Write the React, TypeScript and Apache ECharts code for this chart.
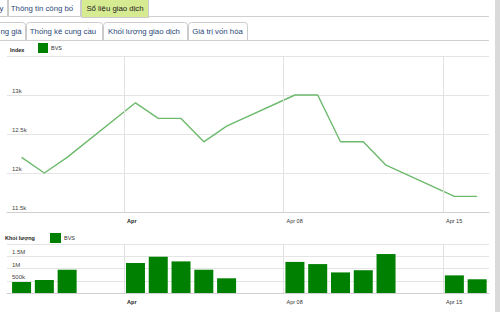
import React, { useEffect, useRef } from "react";
import * as echarts from "echarts";

const dates = [
  "2013-03-27", "2013-03-28", "2013-03-29",
  "2013-04-01", "2013-04-02", "2013-04-03", "2013-04-04", "2013-04-05",
  "2013-04-08", "2013-04-09", "2013-04-10", "2013-04-11", "2013-04-12",
  "2013-04-15", "2013-04-16",
];
const indexValues = [
  12200, 12000, 12200,
  12900, 12700, 12700, 12400, 12600,
  13000, 13000, 12400, 12400, 12100,
  11700, 11700,
];
const volumeValues = [
  450000, 530000, 950000,
  1220000, 1480000, 1290000, 950000, 600000,
  1270000, 1180000, 840000, 930000, 1590000,
  720000, 560000,
];
const tickDates = ["2013-04-01", "2013-04-08", "2013-04-15"];
const tickLabels = ["Apr", "Apr 08", "Apr 15"];
const tabsRow1 = ["y", "Thông tin công bố", "Sổ liệu giao dịch"];
const tabsRow2 = ["ng giá", "Thống kê cung cầu", "Khối lượng giao dịch", "Giá trị vốn hóa"];
const seriesName = "BVS";
const indexTitle = "Index";
const volumeTitle = "Khối lượng";

const BASE = Date.UTC(2013, 3, 1);
const dayOf = (s: string) => {
  const [y, m, d] = s.split("-").map(Number);
  return (Date.UTC(y, m - 1, d) - BASE) / 86400000;
};
const tickPos = tickDates.map(dayOf);

const fmtNum = (v: number) =>
  v >= 1e6 ? v / 1e6 + "M" : v >= 1000 ? v / 1000 + "k" : String(v);

const FONT = "'Liberation Sans', Arial, sans-serif";

export default function App() {
  const ref = useRef<HTMLDivElement>(null);
  useEffect(() => {
    if (!ref.current) return;
    const chart = echarts.init(ref.current, undefined, { renderer: "svg" });

    const lineData = dates.map((d, i) => [dayOf(d) + 0.5, indexValues[i]]);
    const barData = dates.map((d, i) => [dayOf(d) + 0.5, volumeValues[i]]);

    const xAxisCommon = (gridIndex: number) => ({
      type: "value",
      gridIndex,
      min: -5.14,
      max: 16.02,
      splitLine: { show: false },
      axisTick: { show: false },
      axisLine: { show: true, lineStyle: { color: "#d0d0d0", width: 1 } },
      axisLabel: {
        customValues: tickPos,
        margin: 6,
        align: "left",
        padding: [0, 0, 0, 3],
        fontSize: 5.5,
        fontFamily: FONT,
        color: "#333",
        formatter: (v: number) => {
          const i = tickPos.indexOf(v);
          const t = i >= 0 ? tickLabels[i] : "";
          return i === 0 ? "{b|" + t + "}" : "{n|" + t + "}";
        },
        rich: {
          b: { fontWeight: "bold", fontSize: 5.5, fontFamily: FONT, color: "#222" },
          n: { fontSize: 5.5, fontFamily: FONT, color: "#333" },
        },
      },
    });

    const yAxisCommon = (gridIndex: number, min: number, max: number, interval: number) => ({
      type: "value",
      gridIndex,
      min,
      max,
      interval,
      axisLine: { show: false },
      axisTick: { show: false },
      splitLine: { show: true, lineStyle: { color: "#e4e4e4", width: 1 } },
      axisLabel: {
        inside: true,
        margin: 5,
        align: "left",
        verticalAlign: "bottom",
        padding: [0, 0, 1, 0],
        showMaxLabel: false,
        fontSize: 6,
        fontFamily: FONT,
        color: "#444",
        formatter: fmtNum,
      },
    });

    const vLines = {
      silent: true,
      symbol: ["none", "none"],
      label: { show: false },
      lineStyle: { color: "#e2e2e2", type: "solid", width: 1 },
      emphasis: { disabled: true },
      animation: false,
      data: tickPos.map((p) => ({ xAxis: p })),
    };

    const tabText = (text: string, x: number, y: number, color: string) => ({
      type: "text",
      style: {
        text,
        x,
        y,
        fill: color,
        fontSize: 7.8,
        fontFamily: FONT,
        align: "center",
        textAlign: "center",
        verticalAlign: "middle",
        textVerticalAlign: "middle",
      },
      z: 10,
    });
    const tabRect = (x: number, y: number, w: number, h: number, fill: string) => ({
      type: "rect",
      shape: { x: x + 0.5, y: y + 0.5, width: w, height: h, r: [3, 3, 0, 0] },
      style: { fill, stroke: "#cbcbcb", lineWidth: 1 },
      z: 5,
    });

    const graphics: any[] = [
      // row 1 tabs
      tabRect(-10, -4, 17, 20, "#fff"),
      tabRect(8, -4, 72, 20, "#fff"),
      tabRect(81, -4, 67, 21, "#d6ea92"),
      tabText(tabsRow1[0], 1.5, 8, "#2b4877"),
      tabText(tabsRow1[1], 42, 8, "#2b4877"),
      tabText(tabsRow1[2], 115, 8, "#222"),
      {
        type: "line",
        shape: { x1: 148, y1: 16.5, x2: 489, y2: 16.5 },
        style: { stroke: "#cfcfcf", lineWidth: 1 },
        z: 4,
      },
      // row 2 tabs
      tabRect(-10, 22, 35, 18, "#fff"),
      tabRect(26, 22, 76, 18, "#fff"),
      tabRect(103, 22, 84, 18, "#fff"),
      tabRect(188, 22, 59, 18, "#fff"),
      tabText(tabsRow2[0], 11, 31.5, "#2b4877"),
      tabText(tabsRow2[1], 63, 31.5, "#2b4877"),
      tabText(tabsRow2[2], 144, 31.5, "#2b4877"),
      tabText(tabsRow2[3], 217.5, 31.5, "#2b4877"),
      {
        type: "line",
        shape: { x1: 0, y1: 40.5, x2: 489, y2: 40.5 },
        style: { stroke: "#cfcfcf", lineWidth: 1 },
        z: 6,
      },
      // right border
      {
        type: "rect",
        shape: { x: 495, y: 0, width: 5, height: 312 },
        style: { fill: "#dadada" },
        z: 4,
      },
      // chart titles
      {
        type: "text",
        style: {
          text: indexTitle,
          x: 10,
          y: 49.5,
          fill: "#222",
          fontSize: 5.5,
          fontWeight: "bold",
          fontFamily: FONT,
          verticalAlign: "middle",
          textVerticalAlign: "middle",
        },
      },
      {
        type: "text",
        style: {
          text: volumeTitle,
          x: 5,
          y: 238,
          fill: "#222",
          fontSize: 5.5,
          fontWeight: "bold",
          fontFamily: FONT,
          verticalAlign: "middle",
          textVerticalAlign: "middle",
        },
      },
    ];

    chart.setOption({
      animation: false,
      backgroundColor: "#fff",
      textStyle: { fontFamily: FONT },
      legend: [
        {
          data: [seriesName],
          left: 38,
          top: 43,
          itemWidth: 10,
          itemHeight: 10,
          icon: "rect",
          selectedMode: false,
          padding: 0,
          textStyle: { fontSize: 5.5, color: "#333", padding: [0, 0, 0, -2] },
        },
        {
          data: [seriesName],
          left: 50,
          top: 233,
          itemWidth: 11,
          itemHeight: 10,
          icon: "rect",
          selectedMode: false,
          padding: 0,
          textStyle: { fontSize: 5.5, color: "#333", padding: [0, 0, 0, -2] },
        },
      ],
      grid: [
        { left: 7, right: 11, top: 56, height: 156, containLabel: false },
        { left: 7, right: 11, top: 244, height: 49, containLabel: false },
      ],
      xAxis: [xAxisCommon(0), xAxisCommon(1)],
      yAxis: [
        yAxisCommon(0, 11500, 13500, 500),
        yAxisCommon(1, 0, 2000000, 500000),
      ],
      graphic: graphics,
      series: [
        {
          name: seriesName,
          type: "line",
          xAxisIndex: 0,
          yAxisIndex: 0,
          data: lineData,
          showSymbol: false,
          symbol: "none",
          itemStyle: { color: "#008000" },
          lineStyle: { color: "#6dba6d", width: 1.4 },
          markLine: vLines,
          silent: true,
        },
        {
          name: seriesName,
          type: "bar",
          xAxisIndex: 1,
          yAxisIndex: 1,
          data: barData,
          barWidth: 19,
          itemStyle: { color: "#008000" },
          markLine: vLines,
          silent: true,
        },
      ],
    });
    return () => chart.dispose();
  }, []);

  return (
    <div
      ref={ref}
      style={{ position: "fixed", left: 0, top: 0, width: 500, height: 312, background: "#fff" }}
    />
  );
}
